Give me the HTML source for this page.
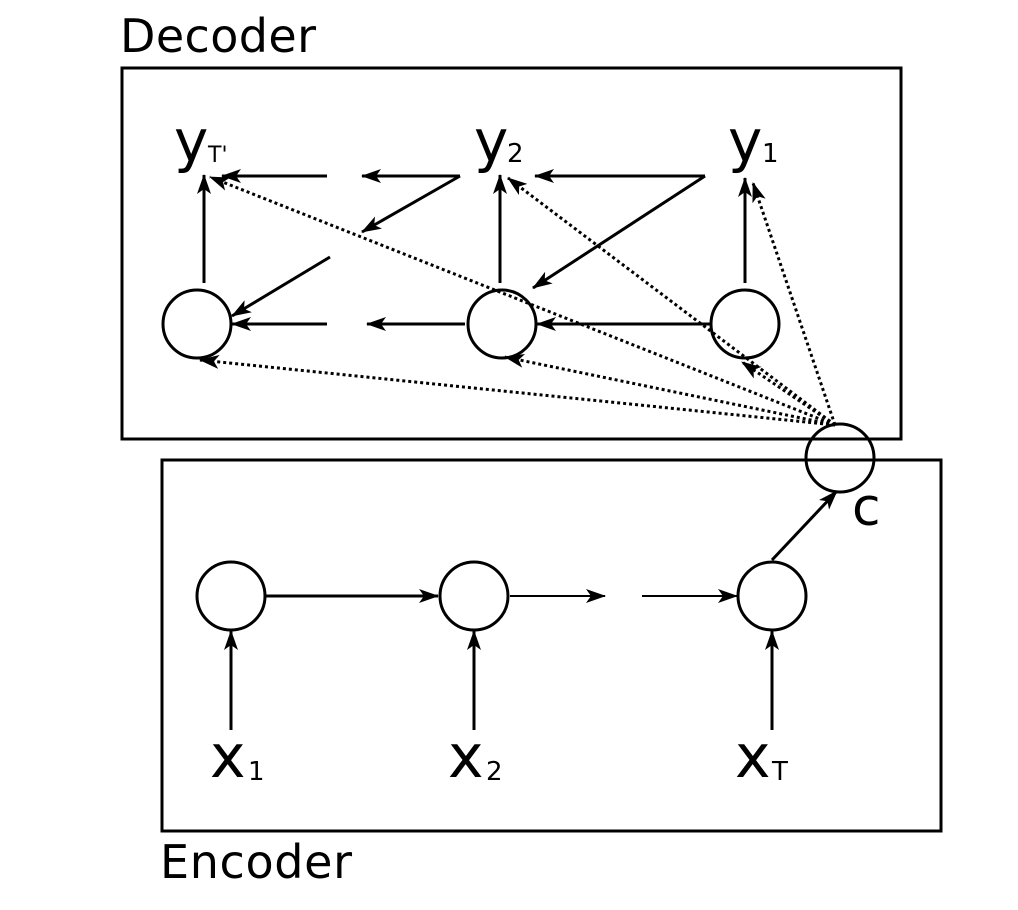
<!DOCTYPE html>
<html><head><meta charset="utf-8"><style>
html,body{margin:0;padding:0;background:#fff;}
svg{display:block;}
text{font-family:"DejaVu Sans","Liberation Sans",sans-serif;fill:#000;}
</style></head><body>
<svg width="1018" height="910" viewBox="0 0 1018 910" xmlns="http://www.w3.org/2000/svg">
<defs>
<marker id="a" viewBox="0 0 20 14" refX="19" refY="7" markerWidth="20" markerHeight="14" markerUnits="userSpaceOnUse" orient="auto">
<path d="M0,0 L20,7 L0,14 L5,7 Z" fill="#000"/>
</marker>
</defs>
<g fill="none" stroke="#000" stroke-width="3">
<rect x="122" y="68" width="779" height="371"/>
<rect x="162" y="460" width="779" height="371"/>
</g>
<text x="120" y="52" font-size="46" textLength="196">Decoder</text>
<text x="160" y="878" font-size="46" textLength="192">Encoder</text>

<!-- labels -->
<text x="174" y="161" font-size="58">y</text><text x="208" y="162" font-size="22">T'</text>
<text x="474" y="161" font-size="58">y</text><text x="507" y="162" font-size="26">2</text>
<text x="728" y="161" font-size="58">y</text><text x="762" y="162" font-size="26">1</text>
<text x="210" y="777" font-size="60">x</text><text x="248" y="780" font-size="26">1</text>
<text x="448" y="777" font-size="60">x</text><text x="486" y="780" font-size="26">2</text>
<text x="735" y="777" font-size="60">x</text><text x="772" y="780" font-size="26">T</text>
<text x="852" y="525" font-size="52">c</text>

<!-- circles -->
<g fill="none" stroke="#000" stroke-width="3">
<ellipse cx="197" cy="324" rx="34" ry="34"/>
<ellipse cx="502" cy="324" rx="34" ry="34"/>
<ellipse cx="745" cy="324" rx="34" ry="34"/>
<ellipse cx="840" cy="458" rx="34" ry="34"/>
<ellipse cx="231" cy="596" rx="34" ry="34"/>
<ellipse cx="474" cy="596" rx="34" ry="34"/>
<ellipse cx="772" cy="596" rx="34" ry="34"/>
</g>

<!-- solid arrows -->
<g stroke="#000" stroke-width="3" fill="none" marker-end="url(#a)">
<line x1="204" y1="283" x2="204" y2="175"/>
<line x1="500" y1="283" x2="500" y2="175"/>
<line x1="745" y1="283" x2="745" y2="178"/>
<line x1="705" y1="176" x2="535" y2="176"/>
<line x1="705" y1="176" x2="533" y2="288"/>
<line x1="460" y1="176" x2="362" y2="176"/>
<line x1="460" y1="176" x2="362" y2="232"/>
<line x1="327" y1="176" x2="222" y2="176"/>
<line x1="330" y1="257" x2="232" y2="316"/>
<line x1="711" y1="324" x2="537" y2="324"/>
<line x1="465" y1="324" x2="367" y2="324"/>
<line x1="327" y1="324" x2="232" y2="324"/>
<line x1="265" y1="596" x2="438" y2="596"/>
<line x1="510" y1="596" x2="605" y2="596" stroke-width="2"/>
<line x1="642" y1="596" x2="737" y2="596" stroke-width="2"/>
<line x1="772" y1="560" x2="837" y2="491"/>
<line x1="231" y1="730" x2="231" y2="631"/>
<line x1="474" y1="730" x2="474" y2="631"/>
<line x1="772" y1="730" x2="772" y2="631"/>
</g>

<!-- dotted arrows from c -->
<g stroke="#000" stroke-width="3" fill="none" stroke-dasharray="3,3" marker-end="url(#a)">
<line x1="835" y1="425" x2="210" y2="177"/>
<line x1="835" y1="425" x2="508" y2="178"/>
<line x1="835" y1="425" x2="753" y2="183"/>
<line x1="835" y1="425" x2="200" y2="360"/>
<line x1="835" y1="425" x2="505" y2="357"/>
<line x1="835" y1="425" x2="742" y2="362"/>
</g>
</svg>
</body></html>
